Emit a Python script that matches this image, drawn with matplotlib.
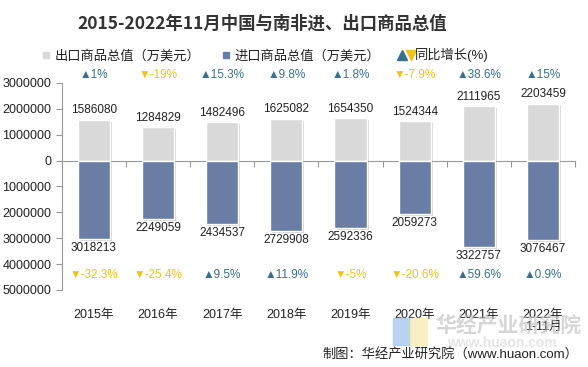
import matplotlib
matplotlib.use('Agg')
import matplotlib.pyplot as plt
import matplotlib.patheffects as pe
from matplotlib.lines import Line2D
from matplotlib.patches import Rectangle
from matplotlib.ticker import FuncFormatter

plt.rcParams['font.family'] = ['Liberation Sans', 'Noto Sans CJK SC', 'DejaVu Sans']

# Datos del gráfico
anios = ['2015年', '2016年', '2017年', '2018年', '2019年', '2020年', '2021年', '2022年\n1-11月']
exportaciones = [1586080, 1284829, 1482496, 1625082, 1654350, 1524344, 2111965, 2203459]
importaciones = [3018213, 2249059, 2434537, 2729908, 2592336, 2059273, 3322757, 3076467]
crec_export = [1, -19, 15.3, 9.8, 1.8, -7.9, 38.6, 15]
crec_import = [-32.3, -25.4, 9.5, 11.9, -5, -20.6, 59.6, 0.9]

c_export = '#d9d9d9'
c_import = '#6a7ea5'
c_sube = '#3b6e8f'
c_baja = '#f2c318'


class HandlerFlechas:
    # dibuja ▲ y ▼ juntos en la leyenda
    def legend_artist(self, legend, orig_handle, fontsize, handlebox):
        w, h = handlebox.width, handlebox.height
        up = Line2D([w / 2 - 3], [h / 2], marker='^', markersize=6.5, color=c_sube, linestyle='none')
        dn = Line2D([w / 2 + 3.5], [h / 2], marker='v', markersize=6.5, color=c_baja, linestyle='none')
        handlebox.add_artist(up)
        handlebox.add_artist(dn)
        return up


fig = plt.figure(figsize=(5.88, 3.67), dpi=100)
ax = fig.add_axes([0.105, 0.210, 0.873, 0.564])

x = list(range(len(anios)))
sombra = [pe.SimplePatchShadow(offset=(1.5, -1.5), shadow_rgbFace='#888888', alpha=0.35), pe.Normal()]
b1 = ax.bar(x, exportaciones, width=0.5, color=c_export, edgecolor='white', linewidth=1, zorder=3)
b2 = ax.bar(x, [-v for v in importaciones], width=0.5, color=c_import, edgecolor='white', linewidth=1, zorder=3)
for b in list(b1) + list(b2):
    b.set_path_effects(sombra)

ax.set_xlim(-0.5, len(anios) - 0.5)
ax.set_ylim(-5000000, 3000000)
ax.set_yticks(range(-5000000, 3000001, 1000000))
ax.yaxis.set_major_formatter(FuncFormatter(lambda v, p: f'{abs(int(v))}'))
ax.tick_params(axis='y', labelsize=9, colors='#999999', labelcolor='#222222', length=4)

ax.spines['top'].set_visible(False)
ax.spines['right'].set_visible(False)
ax.spines['left'].set_color('#999999')
ax.spines['bottom'].set_position(('data', 0))
ax.spines['bottom'].set_color('#999999')
ax.set_xticks([i + 0.5 for i in range(-1, len(anios))])
ax.tick_params(axis='x', labelbottom=False, length=4, colors='#999999')

# etiquetas de año abajo
sec = ax.secondary_xaxis('bottom')
sec.set_xticks(x)
sec.set_xticklabels(anios, fontsize=9, color='#222222', va='top', linespacing=1.0)
sec.tick_params(length=0, pad=14)
sec.spines['bottom'].set_visible(False)

for i in x:
    ax.text(i, exportaciones[i] + 120000, f'{exportaciones[i]}', ha='center', va='bottom',
            fontsize=8.5, color='#222222', zorder=4)
    ax.text(i, -importaciones[i] - 120000, f'{importaciones[i]}', ha='center', va='top',
            fontsize=8.5, color='#222222', zorder=4)
    for val, yy in ((crec_export[i], 3320000), (crec_import[i], -4420000)):
        if val >= 0:
            s, col = f'▲{val:g}%', c_sube
        else:
            s, col = f'▼{val:g}%', c_baja
        ax.text(i, yy, s, ha='center', va='center', fontsize=8.5, color=col,
                family=['Liberation Sans', 'DejaVu Sans'], clip_on=False)

fig.text(0.446, 0.935, '2015-2022年11月中国与南非进、出口商品总值', ha='center', va='center',
         fontsize=12.5, fontweight='bold', color='#333333', family=['Noto Sans CJK SC'])

h1 = Line2D([], [], marker='s', linestyle='none', markersize=4.5, color=c_export)
h2 = Line2D([], [], marker='s', linestyle='none', markersize=4.5, color=c_import)
h3 = Line2D([], [])
fig.legend([h1, h2, h3], ['出口商品总值（万美元）', '进口商品总值（万美元）', '同比增长(%)'],
           handler_map={h3: HandlerFlechas()},
           loc='center', bbox_to_anchor=(0.45, 0.85), ncol=3, frameon=False,
           fontsize=9.5, handlelength=0.8, handletextpad=0.3, columnspacing=1.5,
           labelcolor='#222222')

# marca de agua
fig.patches.append(Rectangle((393 / 588, 1 - 345 / 367), 17 / 588, 27 / 367,
                             transform=fig.transFigure, color='#a9c8ef', alpha=0.8, zorder=0))
fig.patches.append(Rectangle((410 / 588, 1 - 345 / 367), 17 / 588, 27 / 367,
                             transform=fig.transFigure, color='#f7edb2', alpha=0.8, zorder=0))
fig.text(0.74, 1 - 325 / 367, '华经产业研究院', fontsize=15, fontweight='bold', color='#bbbbbb',
         alpha=0.6, va='center', ha='left', family=['Noto Sans CJK SC'])
fig.text(0.76, 1 - 343 / 367, 'www.huaon.com', fontsize=10, fontweight='bold', color='#cccccc',
         alpha=0.5, va='center', ha='left')

fig.text(0.983, 1 - 354 / 367, '制图：华经产业研究院（www.huaon.com）', ha='right', va='center',
         fontsize=9.5, color='#222222')

plt.savefig('out.png', dpi=100)
